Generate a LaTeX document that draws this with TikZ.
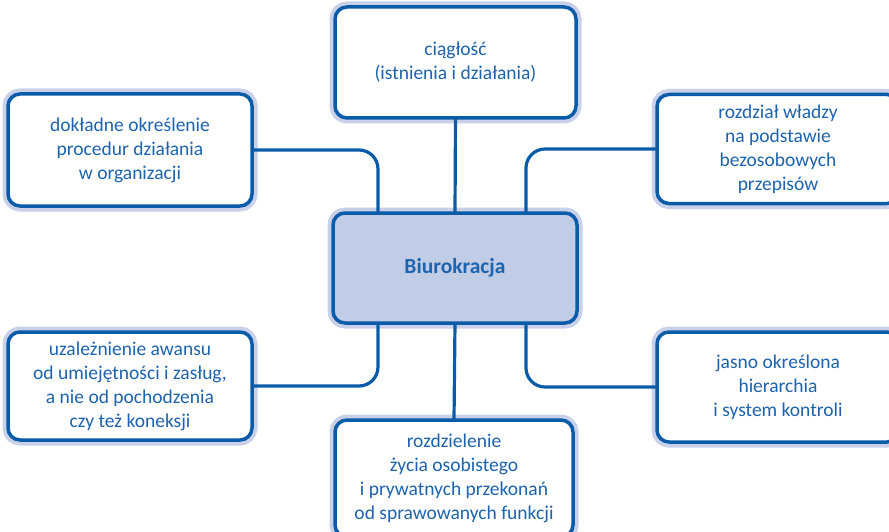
\documentclass[tikz,border=0pt]{standalone}
\usepackage{fontspec}
\setmainfont{Carlito}
\definecolor{boxblue}{HTML}{0B5CA8}
\definecolor{halo}{HTML}{C9D1EA}
\definecolor{txtblue}{HTML}{1E63AE}
\definecolor{cfill}{HTML}{C1CDE6}
\tikzset{
  box/.style={draw=boxblue, line width=3.5pt, rounded corners=12pt,
    preaction={draw=halo, line width=11pt}, fill=white, outer sep=0pt,
    align=center, text=txtblue, font=\fontsize{19.5}{24}\selectfont, inner sep=0pt},
  conn/.style={draw=boxblue, line width=3.2pt, rounded corners=19pt}
}
\begin{document}
\begin{tikzpicture}[x=1pt,y=-1pt]
\useasboundingbox (0,0) rectangle (889,532);
\clip (0,0) rectangle (889,532);
\node[box, minimum width=241pt, minimum height=111pt] (T) at (455.5,62.5) {ciągłość\\(istnienia i działania)};
\node[box, fill=cfill, minimum width=244pt, minimum height=110pt, font=\fontsize{21.5}{24}\selectfont\bfseries] (C) at (455,268) {Biurokracja};
\node[box, minimum width=244pt, minimum height=112pt] (L1) at (130,150) {dokładne określenie\\procedur działania\\w organizacji};
\node[box, minimum width=242pt, minimum height=109pt] (R1) at (778,149) {rozdział władzy\\na podstawie\\bezosobowych\\przepisów};
\node[box, minimum width=244pt, minimum height=108pt] (L2) at (130,386) {uzależnienie awansu\\od umiejętności i zasług,\\a nie od pochodzenia\\czy też koneksji};
\node[box, minimum width=242pt, minimum height=110pt] (R2) at (778,387) {jasno określona\\hierarchia\\i system kontroli};
\node[box, minimum width=238pt, minimum height=117pt] (B) at (454,478.5) {rozdzielenie\\życia osobistego\\i prywatnych przekonań\\od sprawowanych funkcji};
\draw[conn] (T.south) -- (C.north);
\draw[conn] (C.south) -- (B.north);
\draw[conn] (L1.east) -| ([xshift=45pt]C.north west);
\draw[conn] (R1.west) -| ([xshift=-51pt]C.north east);
\draw[conn] (L2.east) -| ([xshift=45pt]C.south west);
\draw[conn] (R2.west) -| ([xshift=-51pt]C.south east);
\end{tikzpicture}
\end{document}
